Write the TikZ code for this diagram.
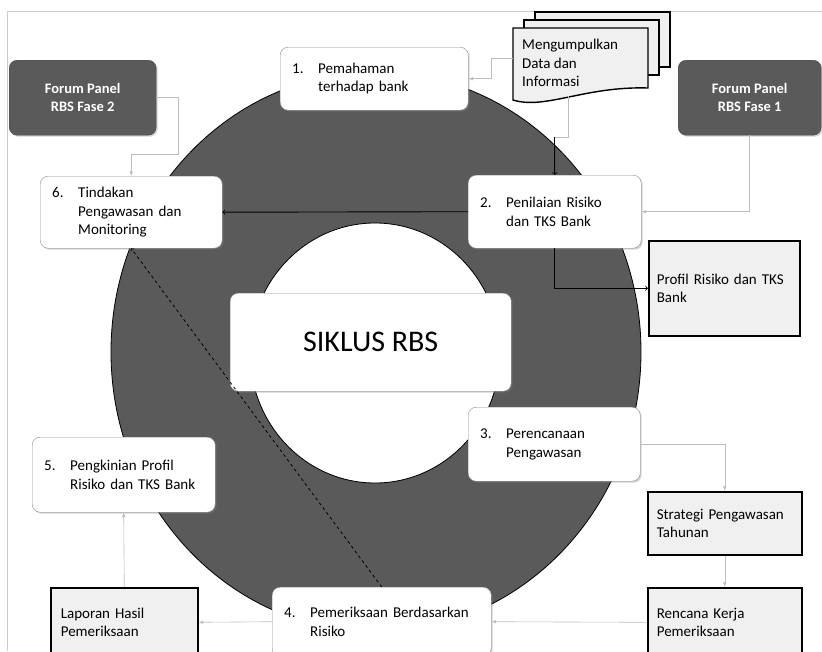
\documentclass[tikz,border=0pt]{standalone}
\usepackage{fontspec}
\setmainfont{Carlito}
\usetikzlibrary{shadows,arrows}

\definecolor{ringgray}{HTML}{5A5A5A}
\definecolor{boxline}{HTML}{8C8C8C}
\definecolor{linkgray}{HTML}{BDBDBD}
\definecolor{notefill}{HTML}{F0F0F0}

\newcommand{\stepno}[1]{\makebox[26pt][l]{#1}}

\tikzset{
	stage/.style={draw=boxline, fill=white, rounded corners=8pt, anchor=north west,
		inner xsep=12pt, inner ysep=0pt, align=left, font=\fontsize{15}{18.5}\selectfont,
		drop shadow={shadow xshift=1.5pt, shadow yshift=-1.5pt, opacity=.35}},
	forum/.style={draw=black!70, fill=ringgray, text=white, rounded corners=8pt, anchor=north west,
		align=center, font=\fontsize{14.5}{18}\selectfont\bfseries,
		drop shadow={shadow xshift=1.5pt, shadow yshift=-1.5pt, opacity=.35}},
	note/.style={draw=black, line width=1.6pt, fill=notefill, anchor=north west,
		inner ysep=0pt, align=left, font=\fontsize{15}{18.5}\selectfont},
	link/.style={draw=linkgray, line width=.6pt, -latex},
	mainlink/.style={draw=black, line width=.9pt, ->},
}

\begin{document}
\begin{tikzpicture}[
		x={(1pt,0pt)},
		y={(0pt,-1pt)},
	]
	\useasboundingbox (0,0) rectangle (822,651);
	\clip (0,0) rectangle (822,651);
	\draw[black!20] (822,11) -- (7,11) -- (7,651);

	% ring
	\filldraw[fill=ringgray, draw=black, line width=.8pt, even odd rule]
		(376,352) ellipse [x radius=265, y radius=280]
		(375,353) ellipse [x radius=125, y radius=130];

	\node[stage, minimum width=281pt, minimum height=98pt, inner xsep=0pt, align=center,
		font=\fontsize{30}{36}\selectfont] (siklus) at (230,293) {SIKLUS RBS};

	% stages
	\node[stage, text width=164pt, minimum height=63pt] (s1) at (280,47)
		{\stepno{1.}Pemahaman\\\hspace*{26pt}terhadap bank};
	\node[stage, text width=149pt, minimum height=73pt] (s2) at (468,175)
		{\stepno{2.}Penilaian Risiko\\\hspace*{26pt}dan TKS Bank};
	\node[stage, text width=148pt, minimum height=74pt] (s3) at (468,407)
		{\stepno{3.}Perencanaan\\\hspace*{26pt}Pengawasan};
	\node[stage, text width=195pt, minimum height=69pt] (s4) at (272,587)
		{\stepno{4.}Pemeriksaan Berdasarkan\\\hspace*{26pt}Risiko};
	\node[stage, text width=159pt, minimum height=75pt] (s5) at (32,437)
		{\stepno{5.}Pengkinian Profil\\\hspace*{26pt}Risiko dan TKS Bank};
	\node[stage, text width=158pt, minimum height=72pt] (s6) at (40,176)
		{\stepno{6.}Tindakan\\\hspace*{26pt}Pengawasan dan\\\hspace*{26pt}Monitoring};

	% forum panels
	\node[forum, minimum width=147pt, minimum height=75pt] (fase2) at (9,60) {Forum Panel\\RBS Fase 2};
	\node[forum, minimum width=143pt, minimum height=75pt] (fase1) at (678,60) {Forum Panel\\RBS Fase 1};

	% outputs
	\node[note, inner xsep=8pt, text width=135pt, minimum height=95pt] (profil) at (648,240)
		{Profil Risiko dan TKS\\Bank};
	\node[note, inner xsep=9pt, text width=136pt, minimum height=63pt] (strategi) at (647,491)
		{Strategi Pengawasan\\Tahunan};
	\node[note, inner xsep=9pt, text width=136pt, minimum height=69pt] (rencana) at (647,587)
		{Rencana Kerja\\Pemeriksaan};
	\node[note, inner xsep=10pt, text width=127pt, minimum height=69pt] (laporan) at (50,587)
		{Laporan Hasil\\Pemeriksaan};

	% data documents
	\foreach \dx/\dy in {22/-16, 11/-8}{
		\filldraw[fill=notefill, draw=black, line width=1.4pt] ({513+\dx},{28+\dy}) rectangle ({648+\dx},{83+\dy});
	}
	\filldraw[fill=notefill, draw=black, line width=1.4pt]
		(648,28) -- (513,28) -- (513,100) .. controls (545,110) and (585,86) .. (648,88) -- cycle;
	\node[anchor=west, inner sep=0pt, align=left, font=\fontsize{15}{18.5}\selectfont] (data) at (522,63)
		{Mengumpulkan\\Data dan\\Informasi};
	\coordinate (docL) at (513,58);
	\coordinate (docB) at (568,96);
	\coordinate (bendB) at (554.5,137);

	% connectors
	\draw[link] (docL) -- (491,58) |- (s1.east);
	\draw[link, -] (docB) |- (bendB);
	\draw[mainlink] (bendB) -- (s2.north);
	\draw[link] (fase1.south) |- (s2.east);
	\draw[mainlink] (s2.west) -- (s6.east);
	\draw[mainlink] (s2.south) |- (profil.west);
	\draw[link] (fase2.east) -| (178,154) -| (s6.north);
	\draw[mainlink, dashed, line width=.8pt] (s4.north) -- (s6.south);
	\draw[link] (s3.east) -| (strategi.north);
	\draw[link] (strategi.south) -- (rencana.north);
	\draw[link] (rencana.west) -- (s4.east);
	\draw[link] (s4.west) -- (laporan.east);
	\draw[link] (laporan.north) -- (s5.south);
\end{tikzpicture}
\end{document}
